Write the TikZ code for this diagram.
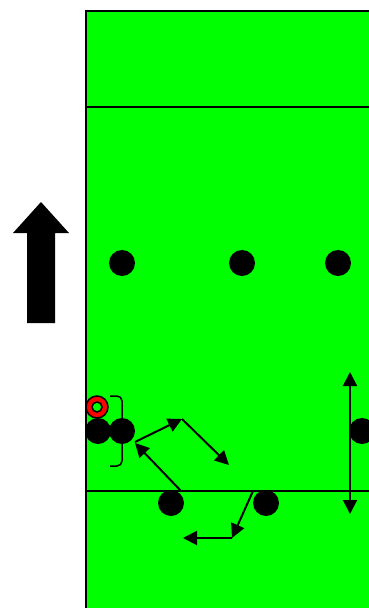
\documentclass[tikz,border=0pt]{standalone}
\usetikzlibrary{arrows.meta}
\definecolor{field}{RGB}{0,255,0}
\begin{document}
\begin{tikzpicture}[x=1pt,y=-1pt,
  player/.style={circle,fill=black,minimum size=26pt,inner sep=0pt},
  mv/.style={line width=2pt,-{Triangle[length=14pt,width=14pt]}},
  edge/.style={line width=2pt}]
\useasboundingbox (0,0) rectangle (368,608);
% field
\fill[field] (86,11) rectangle (372,612);
\draw[edge] (372,11) -- (86,11) -- (86,612);
\draw[edge] (86,106.5) -- (372,106.5);
\draw[edge] (86,490.5) -- (372,490.5);
% direction arrow
\fill[black] (27,323) -- (27,233) -- (13,233) -- (41,202) -- (69,233) -- (55,233) -- (55,323) -- cycle;
% players
\node[player] (p1) at (122,263) {};
\node[player] (p2) at (242,263) {};
\node[player] (p3) at (338,263) {};
\node[player] (p4) at (98,431) {};
\node[player] (p5) at (122,431) {};
\node[player] (p6) at (362,431) {};
\node[player] (p7) at (171,503) {};
\node[player] (p8) at (266,503) {};
% ball carrier ring
\node[circle,draw=black,line width=1.5pt,fill=red,minimum size=22pt,inner sep=0pt] (r1) at (97,407) {};
\node[circle,draw=black,line width=1.5pt,fill=field,minimum size=10pt,inner sep=0pt] (r2) at (97,407) {};
% bracket
\draw[line width=1.5pt,rounded corners=5pt] (110,396) -- (122,396) -- (122,466) -- (110,466);
% movement arrows
\coordinate (a0) at (135,442);
\coordinate (a1) at (182,419);
\coordinate (a2) at (229,465);
\coordinate (b0) at (181,491);
\coordinate (b1) at (135,443);
\coordinate (c0) at (253,491);
\coordinate (c1) at (232,538);
\coordinate (c2) at (183,538);
\draw[mv] (a0) -- (a1);
\draw[mv] (a1) -- (a2);
\draw[mv] (b0) -- (b1);
\draw[mv] (c0) -- (c1);
\draw[mv] (c1) -- (c2);
\coordinate (d0) at (350,372);
\coordinate (d1) at (350,514);
\draw[line width=2pt,{Triangle[length=14pt,width=14pt]}-{Triangle[length=14pt,width=14pt]}] (d0) -- (d1);
\end{tikzpicture}
\end{document}
